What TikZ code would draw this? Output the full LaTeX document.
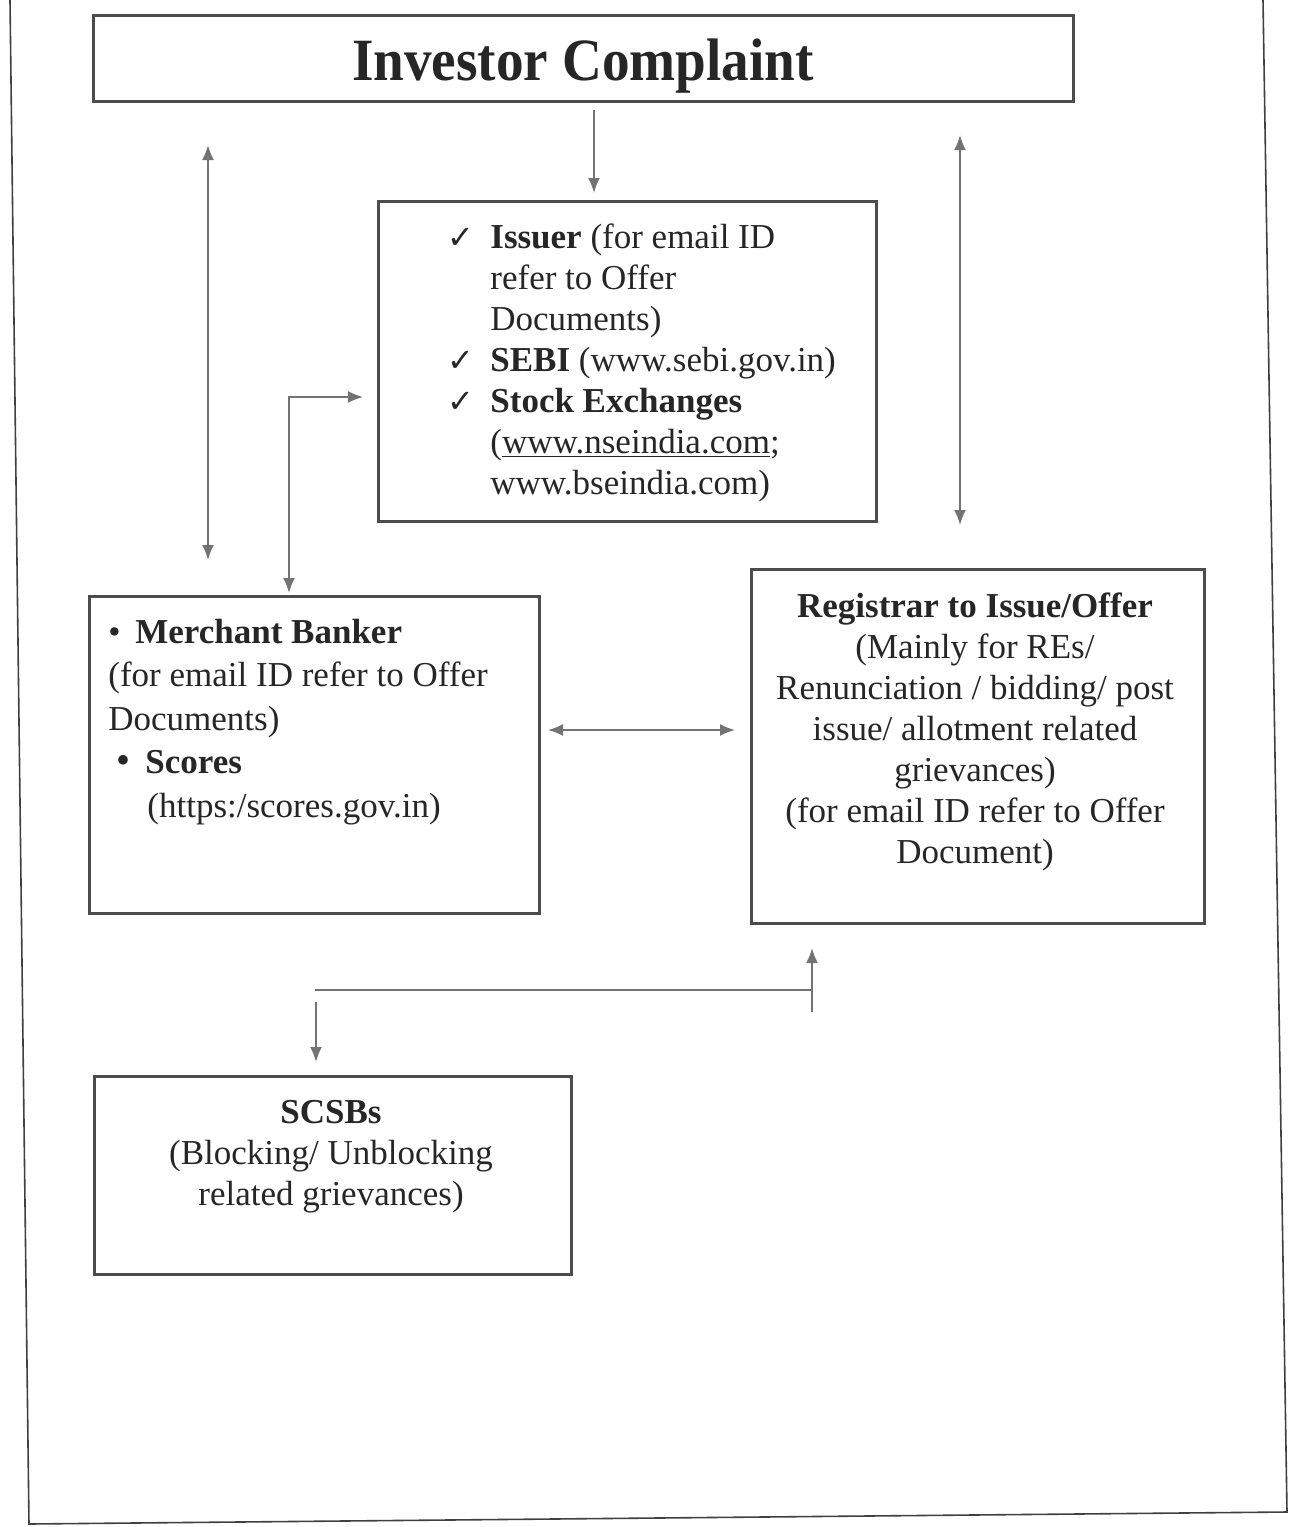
\documentclass[tikz,border=0pt]{standalone}
\usepackage{fontspec}
\setmainfont{Liberation Serif}
\newfontfamily\symfont{DejaVu Sans}
\usetikzlibrary{arrows.meta}
\newcommand{\ck}{\makebox[21.5pt][l]{\symfont\fontsize{16}{16}\selectfont ✓}}
\begin{document}
\begin{tikzpicture}[x=0.5pt,y=-0.5pt,
  box/.style={draw=black!70,line width=1.4pt,rectangle,inner sep=0pt,anchor=north west},
  txt/.style={inner sep=0pt,font=\fontsize{17.5}{20.5}\selectfont,text=black!85},
  conn/.style={draw=black!55,line width=0.9pt},
  onetip/.style={conn,-{Latex[length=7.5pt,width=6pt]}},
  twotip/.style={conn,{Latex[length=7.5pt,width=6pt]}-{Latex[length=7.5pt,width=6pt]}}]
\useasboundingbox (0,0) rectangle (1291,1527);
% outer frame (scanned page border)
\draw[draw=black!75,line width=0.8pt] (10,0) -- (29,1524) -- (1287,1512) -- (1263,0);

% boxes
\node[box,minimum width=490pt,minimum height=43pt] (title) at (92,14) {};
\node[box,minimum width=249pt,minimum height=160pt] (issuer) at (377,200) {};
\node[box,minimum width=225pt,minimum height=158.5pt] (merchant) at (88,595) {};
\node[box,minimum width=226.5pt,minimum height=177pt] (registrar) at (750,568) {};
\node[box,minimum width=238.5pt,minimum height=99pt] (scsb) at (93,1075) {};

% texts
\node[inner sep=0pt,text=black!85,anchor=base] (titletxt) at (583,80)
  {\scalebox{0.92}[1]{\fontsize{30}{30}\selectfont\bfseries Investor Complaint}};

\node[txt,anchor=base west] (isstxt) at (447,248) {\begin{tabular}[t]{@{}l@{}}
\ck\textbf{Issuer} (for email ID\\
\hspace{21.5pt}refer to Offer\\
\hspace{21.5pt}Documents)\\
\ck\textbf{SEBI} (www.sebi.gov.in)\\
\ck\textbf{Stock Exchanges}\\
\hspace{21.5pt}(\underline{www.nseindia.com};\\
\hspace{21.5pt}www.bseindia.com)
\end{tabular}};

\node[txt,anchor=base west,font=\fontsize{17.5}{21.8}\selectfont] (mertxt) at (108,643) {\begin{tabular}[t]{@{}l@{}}
\makebox[13.5pt][l]{•}\textbf{Merchant Banker}\\
(for email ID refer to Offer\\
Documents)\\
\makebox[18.5pt][l]{\hspace{4pt}\fontsize{20}{20}\selectfont•}\textbf{Scores}\\
\hspace{19.5pt}(https:/scores.gov.in)
\end{tabular}};

\node[txt,anchor=base] (regtxt) at (975,617) {\begin{tabular}[t]{@{}c@{}}
\textbf{Registrar to Issue/Offer}\\
(Mainly for REs/\\
Renunciation / bidding/ post\\
issue/ allotment related\\
grievances)\\
(for email ID refer to Offer\\
Document)
\end{tabular}};

\node[txt,anchor=base] (scsbtxt) at (331,1123) {\begin{tabular}[t]{@{}c@{}}
\textbf{SCSBs}\\
(Blocking/ Unblocking\\
related grievances)
\end{tabular}};

% connector end points
\coordinate (tA) at (594,110);
\coordinate (tB) at (594,193);
\coordinate (lA) at (208,145);
\coordinate (lB) at (208,560);
\coordinate (rA) at (960,135);
\coordinate (rB) at (960,525);
\coordinate (eA) at (289,593);
\coordinate (eB) at (363,397);
\coordinate (hA) at (548,730);
\coordinate (hB) at (735,730);
\coordinate (bL) at (315,990);
\coordinate (bR) at (812,990);
\coordinate (uA) at (812,1012);
\coordinate (uB) at (812,948);
\coordinate (dA) at (316,1002);
\coordinate (dB) at (316,1062);

% connectors
\draw[onetip] (tA) -- (tB);
\draw[twotip] (lA) -- (lB);
\draw[twotip] (rA) -- (rB);
\draw[twotip] (eA) |- (eB);
\draw[twotip] (hA) -- (hB);
\draw[conn] (bL) -- (bR);
\draw[onetip] (uA) -- (uB);
\draw[onetip] (dA) -- (dB);
\end{tikzpicture}
\end{document}
